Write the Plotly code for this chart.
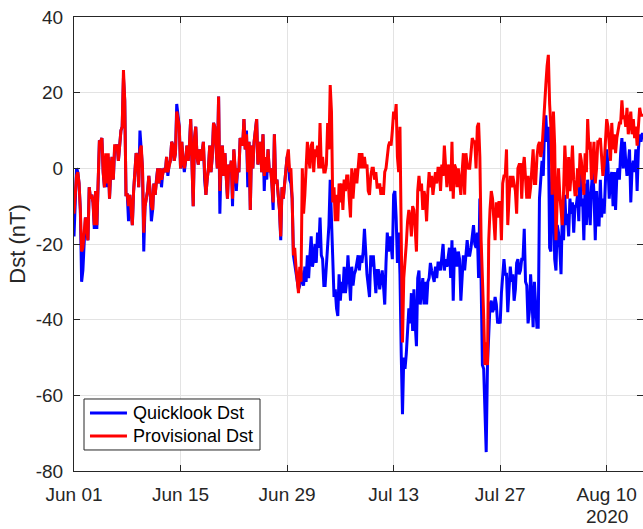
import pandas as pd
import plotly.graph_objects as go

# 4-hourly Dst samples, one row per day starting 2020-06-01 00:00 UT
provisional_dst = [
    -12, -6, -2, -1, -4, -11,
    -22, -21, -17, -13, -16, -19,
    -5, -8, -7, -9, -15, -6,
    -15, -4, 7, 7, 8, -1,
    -5, 4, -4, 4, -8, 0,
    3, -3, 6, 6, 6, 2,
    7, 10, 11, 26, 18, -7,
    -7, -10, -7, -12, -15, -6,
    -1, 4, 3, -5, 5, 6,
    0, -17, -10, -8, -6, -2,
    -6, -10, -11, -4, -7, -3,
    0, -4, 0, -3, -1, 0,
    -1, 3, -1, 1, 2, 7,
    6, 2, 4, 15, 13, 11,
    0, 7, 2, 0, 2, 6,
    2, 6, 13, 0, -10, 8,
    11, 3, 1, 5, 2, 4,
    7, -1, -7, -3, 0, 6,
    -1, 3, 12, 11, 5, 0,
    19, -6, 2, 6, -2, 4,
    -2, -8, 1, -1, 2, -8,
    5, 0, -4, 0, -1, 8,
    7, 6, 13, 5, 9, -1,
    7, -11, 6, 0, 7, 10,
    13, 1, 4, 7, -1, 9,
    -2, 3, -1, 5, -1, 0,
    -4, -9, 9, -4, -3, -7,
    -11, -18, -5, -8, -4, 0,
    3, 5, -1, 0, -8, -23,
    -21, -26, -29, -33, -26, -30,
    0, -12, -7, -1, 7, 3,
    0, 6, 7, -1, 5, 3,
    6, 0, 12, 0, 3, -1,
    -1, 1, 12, 5, 22, 15,
    -9, -5, -14, -7, -14, -4,
    -9, -4, -11, -3, -6, -2,
    -2, -8, -13, 0, -8, -3,
    0, -4, 0, 4, 0, 4,
    0, 3, 0, 1, -6, -7,
    -2, 0, 0, -3, -1, -5,
    -5, -4, -7, -5, -7, -1,
    0, 3, 6, 7, 6, 10,
    15, 13, 17, 3, -1, 11,
    -27, -46, -29, -25, -20, -14,
    -11, -13, -18, -10, -11, -16,
    -22, -6, -2, -6, -4, -11,
    -6, -8, -14, -6, -1, -5,
    -2, -7, -3, -1, -4, 0,
    0, -6, 1, -2, 6, 0,
    -5, 1, -1, -6, 7, -8,
    1, 0, -5, 0, -3, -7,
    -1, 4, -7, 4, 1, 0,
    0, 4, 8, 7, 7, 0,
    11, 12, 3, -19, -27, -39,
    -52, -46, -52, -19, -11, -6,
    -8, -15, -19, -9, -13, -9,
    -9, -19, -4, -2, -2, 5,
    -15, -8, -2, -5, -2, -4,
    -6, -12, 0, 1, 1, -8,
    0, 3, -4, -8, -2, -8,
    -5, -1, 5, -4, -4, 3,
    6, 7, 3, 5, 12, 16,
    22, 27, 30, 17, 11, -7,
    15, 6, -19, -8, 0, -7,
    -12, -15, -6, 6, -1, -8,
    3, -6, -1, 6, -3, -7,
    -7, 0, -5, 4, 2, -3,
    -7, 4, -1, 13, 5, 7,
    -3, 2, 7, -4, 0, 7,
    7, 8, 4, -2, 1, 8,
    13, 11, 5, 2, 12, 5,
    9, 4, 8, 10, 12, 12,
    18, 13, 14, 11, 16, 9,
    13, 15, 9, 13, 8, 11,
    6, 12, 16, 14, 14, 14,
]

quicklook_dst = [
    -18, -10, 0, -1, -4, -11,
    -30, -27, -20, -13, -16, -19,
    -5, -8, -7, -9, -16, -6,
    -16, -4, 7, 7, 8, -1,
    -5, 3, -5, 3, -8, -1,
    3, -3, 5, 6, 6, 2,
    7, 10, 11, 24, 18, -7,
    -7, -14, -7, -12, -15, -6,
    -1, 4, 3, -5, 10, 6,
    0, -22, -10, -8, -6, -2,
    -6, -14, -11, -4, -7, -3,
    0, -4, 0, -5, -1, 0,
    -1, 3, -2, 1, 2, 7,
    6, 2, 4, 17, 13, 11,
    0, 7, 2, -1, 2, 6,
    2, 6, 13, 0, -10, 8,
    11, 3, 1, 5, 2, 4,
    7, -3, -7, -3, 0, 6,
    -1, 3, 12, 11, 5, 0,
    19, -12, 2, 6, -2, 4,
    -2, -8, 1, -1, 2, -10,
    5, 0, -6, 0, -1, 8,
    7, 6, 13, 5, 10, -5,
    7, -11, 6, 0, 7, 10,
    13, 1, 4, 7, -1, 9,
    -6, 3, -3, 5, -1, 0,
    -4, -11, 9, -4, -3, -7,
    -11, -19, -5, -8, -4, 0,
    3, 2, -3, -4, -8, -23,
    -25, -28, -30, -32, -31, -27,
    -30, -31, -26, -30, -23, -29,
    -23, -18, -26, -24, -20, -25,
    -17, -21, -13, -23, -24, -31,
    -31, -26, -21, -15, -3, -15,
    -26, -34, -32, -37, -39, -28,
    -35, -30, -33, -26, -33, -30,
    -23, -30, -35, -26, -31, -28,
    -27, -25, -23, -27, -23, -25,
    -22, -16, -24, -28, -31, -34,
    -23, -26, -23, -29, -33, -27,
    -27, -32, -30, -27, -31, -36,
    -25, -17, -22, -18, -20, -24,
    -7, -6, -13, -25, -17, -28,
    -49, -65, -50, -53, -49, -42,
    -37, -41, -33, -43, -32, -41,
    -47, -29, -27, -36, -33, -29,
    -36, -30, -36, -30, -29, -25,
    -27, -29, -30, -26, -29, -25,
    -25, -27, -23, -20, -27, -24,
    -26, -23, -21, -29, -19, -35,
    -21, -23, -26, -22, -24, -35,
    -27, -23, -27, -22, -19, -23,
    -23, -21, -17, -15, -20, -21,
    -17, -29, -8, -32, -52, -53,
    -64, -75, -52, -41, -36, -35,
    -38, -37, -34, -36, -41, -40,
    -41, -33, -28, -24, -28, -28,
    -38, -30, -26, -30, -28, -35,
    -32, -25, -24, -28, -27, -24,
    -24, -16, -30, -31, -41, -38,
    -28, -34, -42, -30, -37, -42,
    -42, -8, -3, 2, -2, 11,
    14, 7, 11, -21, -22, 0,
    -7, -24, -27, -15, -17, -21,
    -28, -12, -19, -7, -15, -12,
    -18, -8, -12, -9, -17, -10,
    -10, -7, -14, 0, -10, -8,
    -19, -4, -15, -3, -10, -15,
    -5, 0, -7, -19, -6, -15,
    -15, -3, -13, -8, -12, -3,
    5, 1, -8, -3, -1, -10,
    -1, -11, -2, 0, -3, 4,
    8, 0, 7, 2, -2, 1,
    5, -9, 0, 2, -1, 5,
    -6, 5, 9, 7, 9, 9,
]

series_names = ["Quicklook Dst", "Provisional Dst"]
series_colors = ["#0000ff", "#ff0000"]

times = pd.date_range("2020-06-01 00:00", periods=len(provisional_dst), freq="4h")

x_tick_dates = ["2020-06-01", "2020-06-15", "2020-06-29", "2020-07-13", "2020-07-27", "2020-08-10"]
x_tick_labels = ["Jun 01", "Jun 15", "Jun 29", "Jul 13", "Jul 27", "Aug 10"]
y_tick_values = [-80, -60, -40, -20, 0, 20, 40]
y_tick_labels = ["-80", "-60", "-40", "-20", "0", "20", "40"]

FONT = "Liberation Sans, Arial, Helvetica, sans-serif"
AXIS_COLOR = "#262626"
GRID_COLOR = "#e3e3e3"
LINE_WIDTH = 3

fig = go.Figure()
for values, name, color in zip([quicklook_dst, provisional_dst], series_names, series_colors):
    fig.add_trace(go.Scatter(
        x=times, y=values, mode="lines", name=name,
        line=dict(color=color, width=LINE_WIDTH),
        showlegend=False,
    ))

axis_common = dict(
    showline=True, linecolor=AXIS_COLOR, linewidth=1, mirror="ticks",
    ticks="inside", ticklen=6, tickcolor=AXIS_COLOR, tickwidth=1,
    showgrid=True, gridcolor=GRID_COLOR, gridwidth=1, zeroline=False,
    tickfont=dict(family=FONT, size=19, color=AXIS_COLOR),
)

# Legend box drawn in paper coordinates (lower-left corner of the axes)
legend_box = dict(x0=0.0176, x1=0.3269, y0=0.0463, y1=0.1586)
legend_rows_y = [0.1278, 0.0771]
legend_key_x = (0.0281, 0.0931)
legend_text_x = 0.1010

shapes = [dict(type="rect", xref="paper", yref="paper", layer="above",
               line=dict(color=AXIS_COLOR, width=1), fillcolor="white", **legend_box)]
annotations = []
for name, color, ry in zip(series_names, series_colors, legend_rows_y):
    shapes.append(dict(type="line", xref="paper", yref="paper", layer="above",
                       x0=legend_key_x[0], x1=legend_key_x[1], y0=ry, y1=ry,
                       line=dict(color=color, width=LINE_WIDTH)))
    annotations.append(dict(text=name, xref="paper", yref="paper", x=legend_text_x, y=ry,
                            xanchor="left", yanchor="middle", showarrow=False,
                            font=dict(family=FONT, size=18, color="#000000")))

annotations.append(dict(text="2020", xref="x", yref="paper", x="2020-08-10", y=-0.101,
                        xanchor="center", yanchor="middle", showarrow=False,
                        font=dict(family=FONT, size=19, color=AXIS_COLOR)))

fig.update_layout(
    width=643, height=529,
    margin=dict(l=74, r=0, t=17, b=58),
    paper_bgcolor="white", plot_bgcolor="white",
    showlegend=False,
    xaxis=dict(
        type="date",
        range=["2020-06-01 00:00", "2020-08-14 18:30"],
        tickvals=x_tick_dates, ticktext=x_tick_labels,
        ticklabelstandoff=6,
        **axis_common,
    ),
    yaxis=dict(
        range=[-80, 40],
        tickvals=y_tick_values, ticktext=y_tick_labels,
        ticklabelstandoff=6,
        title=dict(text="Dst (nT)", standoff=4,
                   font=dict(family=FONT, size=22, color=AXIS_COLOR)),
        **axis_common,
    ),
    shapes=shapes,
    annotations=annotations,
)

fig.write_html("out.html", config={"displayModeBar": False})
